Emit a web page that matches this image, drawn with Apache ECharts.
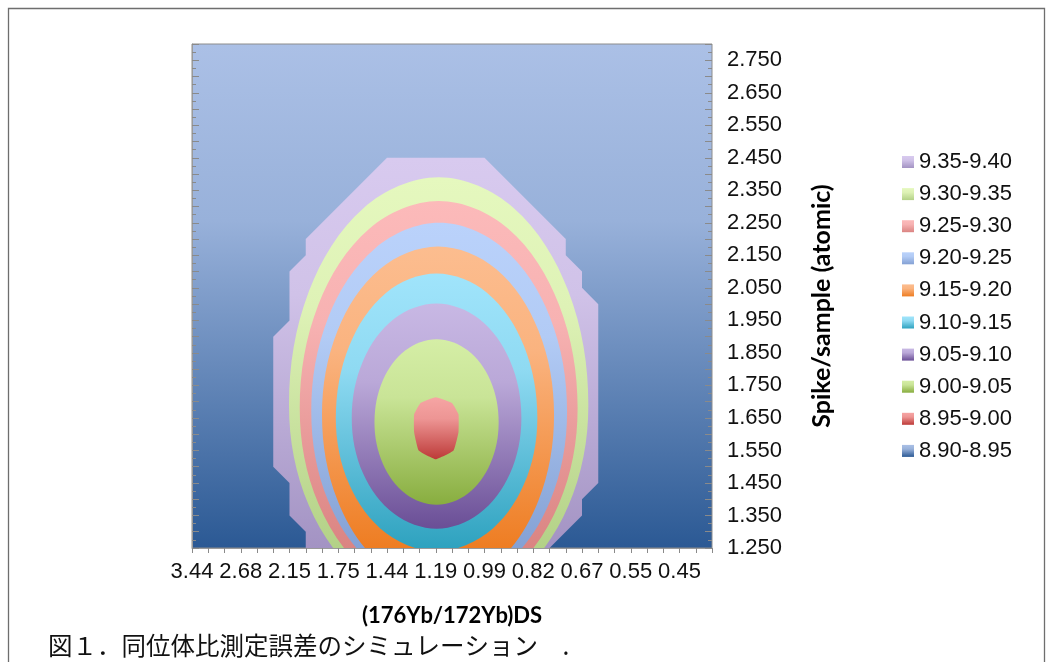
<!DOCTYPE html>
<html><head><meta charset="utf-8">
<script src="https://cdn.jsdelivr.net/npm/echarts@6/dist/echarts.min.js"></script>
<style>html,body{margin:0;padding:0;background:#fff}#c{width:1053px;height:662px}</style>
</head><body><div id="c"></div>
<script>
// ---------------- data ----------------
// category axis (176Yb/172Yb)DS : 33 category positions (0..32), labelled every 3rd
const xTickLabels = ['3.44','2.68','2.15','1.75','1.44','1.19','0.99','0.82','0.67','0.55','0.45'];
const xMin = 0, xMax = 32;
// series axis Spike/sample (atomic)
const yTickLabels = ['1.250','1.350','1.450','1.550','1.650','1.750','1.850','1.950','2.050','2.150','2.250','2.350','2.450','2.550','2.650','2.750'];
const yMin = 1.25, yMax = 2.80;
// legend bands (value ranges)
const bandNames = ['8.90-8.95','8.95-9.00','9.00-9.05','9.05-9.10','9.10-9.15','9.15-9.20','9.20-9.25','9.25-9.30','9.30-9.35','9.35-9.40'];
// contour boundaries, [category position, spike/sample]
const contour940 = [[12,2.45],[18,2.45],[23,2.20],[23,2.15],[24,2.10],[24,2.05],[25,2.00],[25,1.45],[24,1.40],[24,1.35],[22,1.25],[7,1.25],[7,1.30],[6,1.35],[6,1.45],[5,1.50],[5,1.90],[6,1.95],[6,2.10],[7,2.15],[7,2.20]];
const contour935 = [[24.39,1.69],[23.16,2.04],[19.79,2.296],[15.18,2.39],[10.57,2.296],[7.20,2.04],[5.97,1.69],[7.20,1.38],[10.57,1.153],[15.18,1.07],[19.79,1.153],[23.16,1.38]];
const contour930 = [[23.73,1.68],[22.58,1.999],[19.46,2.232],[15.18,2.317],[10.91,2.232],[7.78,1.999],[6.63,1.68],[7.78,1.386],[10.91,1.171],[15.18,1.092],[19.46,1.171],[22.58,1.386]];
const contour925 = [[23.08,1.67],[22.03,1.96],[19.15,2.172],[15.21,2.25],[11.28,2.172],[8.39,1.96],[7.34,1.67],[8.39,1.394],[11.28,1.193],[15.21,1.119],[19.15,1.193],[22.03,1.394]];
const contour920 = [[22.28,1.66],[21.32,1.919],[18.71,2.108],[15.14,2.177],[11.57,2.108],[8.96,1.919],[8.00,1.66],[8.96,1.396],[11.57,1.203],[15.14,1.132],[18.71,1.203],[21.32,1.396]];
const contour915 = [[21.25,1.65],[20.42,1.872],[18.15,2.035],[15.05,2.094],[11.95,2.035],[9.68,1.872],[8.85,1.65],[9.68,1.445],[11.95,1.295],[15.05,1.24],[18.15,1.295],[20.42,1.445]];
const contour910 = [[20.27,1.65],[19.57,1.826],[17.66,1.955],[15.05,2.002],[12.44,1.955],[10.53,1.826],[9.83,1.65],[10.53,1.479],[12.44,1.355],[15.05,1.309],[17.66,1.355],[19.57,1.479]];
const contour905 = [[18.87,1.637],[18.36,1.765],[16.96,1.858],[15.05,1.892],[13.14,1.858],[11.74,1.765],[11.23,1.637],[11.74,1.51],[13.14,1.417],[15.05,1.383],[16.96,1.417],[18.36,1.51]];
const contour900 = [[15,1.714],[16,1.696],[16.4,1.661],[16.4,1.606],[16.1,1.55],[15,1.523],[13.95,1.55],[13.67,1.606],[13.67,1.661],[14.06,1.696]];

// ---------------- styles ----------------
const bandColors = {
  '8.90-8.95': ['#abc0e6', '#2b5994'],
  '8.95-9.00': ['#f6a5a4', '#bd3a38'],
  '9.00-9.05': ['#d5eea6', '#88ad3f'],
  '9.05-9.10': ['#c8b8e4', '#6a4e96'],
  '9.10-9.15': ['#a0e4fb', '#2ea2bf'],
  '9.15-9.20': ['#fcbd8f', '#ee7d22'],
  '9.20-9.25': ['#bad2fb', '#84a1d4'],
  '9.25-9.30': ['#fcbaba', '#da8482'],
  '9.30-9.35': ['#e5f8be', '#b3d187'],
  '9.35-9.40': ['#d8caef', '#a393c3']
};
function mix(a, b, t) {
  const pa = [1,3,5].map(i => parseInt(a.substr(i,2),16));
  const pb = [1,3,5].map(i => parseInt(b.substr(i,2),16));
  return 'rgb(' + pa.map((v,i) => Math.round(v + (pb[i]-v)*t)).join(',') + ')';
}
function stops(name) {
  const c = bandColors[name];
  return [{offset:0,color:c[0]},{offset:0.35,color:mix(c[0],c[1],0.15)},{offset:1,color:c[1]}];
}
function relGrad(name) { return new echarts.graphic.LinearGradient(0,0,0,1,stops(name)); }
function absGrad(name, y0, y1) { return new echarts.graphic.LinearGradient(0,y0,0,y1,stops(name),true); }

function contourSeries(name, pts, smooth) {
  return {
    type: 'custom', name: name, coordinateSystem: 'cartesian2d', clip: true, silent: true,
    itemStyle: { color: relGrad(name) },
    data: pts,
    renderItem: function (params, api) {
      if (params.dataIndex !== 0) return null;
      const cs = params.coordSys;
      const points = pts.map(p => api.coord(p));
      let top = Infinity, bot = -Infinity;
      points.forEach(p => { top = Math.min(top, p[1]); bot = Math.max(bot, p[1]); });
      top = Math.max(top, cs.y); bot = Math.min(bot, cs.y + cs.height);
      return { type: 'polygon', shape: { points: points, smooth: smooth }, style: { fill: absGrad(name, top, bot) } };
    }
  };
}
const backgroundSeries = {
  type: 'custom', name: '8.90-8.95', coordinateSystem: 'cartesian2d', silent: true,
  itemStyle: { color: relGrad('8.90-8.95') },
  data: [[xMin, yMin]],
  renderItem: function (params, api) {
    const cs = params.coordSys;
    return { type: 'rect', shape: { x: cs.x, y: cs.y, width: cs.width, height: cs.height },
      style: { fill: absGrad('8.90-8.95', cs.y, cs.y + cs.height), stroke: '#8c8c8c', lineWidth: 1 } };
  }
};

const numFont = 'Liberation Sans, Arial, sans-serif';
const titleFont = 'Lato, Open Sans, sans-serif';
const tickColor = '#8a8a8a';

const chart = echarts.init(document.getElementById('c'), null, { renderer: 'canvas' });
chart.setOption({
  animation: false,
  backgroundColor: '#ffffff',
  grid: { left: 192, top: 44, width: 520, height: 504, outerBoundsMode: 'none' },
  xAxis: {
    type: 'value', min: xMin, max: xMax, interval: 1, z: 5,
    name: '(176Yb/172Yb)DS', nameLocation: 'middle', nameGap: 57,
    nameTextStyle: { fontFamily: titleFont, fontWeight: 'bold', fontSize: 22, color: '#000' },
    axisLine: { show: true, onZero: false, lineStyle: { color: '#9a9a9a', width: 1 } },
    axisTick: { show: true, length: 5, lineStyle: { color: tickColor } },
    splitLine: { show: false },
    axisLabel: { margin: 13, fontFamily: numFont, fontSize: 22, color: '#111',
      formatter: v => (v % 3 === 0 && xTickLabels[v / 3] !== undefined) ? xTickLabels[v / 3] : '' }
  },
  yAxis: [{
    type: 'value', position: 'right', min: yMin, max: yMax, interval: 0.05, z: 5,
    name: 'Spike/sample (atomic)', nameLocation: 'middle', nameRotate: 90, nameGap: 97,
    nameTextStyle: { fontFamily: titleFont, fontWeight: 'bold', fontSize: 25, color: '#000', padding: [0, 20, 0, 0] },
    axisLine: { show: true, lineStyle: { color: '#9a9a9a', width: 1 } },
    axisTick: { show: true, length: 7, lineStyle: { color: tickColor } },
    minorTick: { show: true, splitNumber: 2, length: 4, lineStyle: { color: tickColor } },
    splitLine: { show: false }, minorSplitLine: { show: false },
    axisLabel: { margin: 15, fontFamily: numFont, fontSize: 22, color: '#111',
      formatter: v => { const k = Math.round((v - yMin) / 0.05); return k % 2 === 0 && yTickLabels[k / 2] ? yTickLabels[k / 2] : ''; } }
  }, {
    type: 'value', position: 'right', min: yMin, max: yMax, interval: 0.05, z: 5,
    axisLine: { show: false },
    axisTick: { show: true, inside: true, length: 7, lineStyle: { color: tickColor } },
    minorTick: { show: true, splitNumber: 2, length: 4, lineStyle: { color: tickColor } },
    splitLine: { show: false }, axisLabel: { show: false }
  }],
  legend: {
    orient: 'vertical', left: 902, top: 151, padding: 0, itemWidth: 12, itemHeight: 12, itemGap: 10.1,
    icon: 'rect', selectedMode: false,
    data: bandNames.slice().reverse(),
    textStyle: { fontFamily: numFont, fontSize: 22, lineHeight: 22, color: '#111' }
  },
  graphic: [
    { type: 'rect', silent: true, shape: { x: 8.5, y: 8.5, width: 1036, height: 720 },
      style: { fill: 'none', stroke: '#6e6e6e', lineWidth: 1.3 } },
    { type: 'text', left: 48, top: 633, silent: true,
      style: { text: '図１．同位体比測定誤差のシミュレーション　.', fontFamily: 'Noto Sans CJK JP', fontSize: 24.5, fill: '#111' } }
  ],
  series: [
    backgroundSeries,
    contourSeries('9.35-9.40', contour940, 0),
    contourSeries('9.30-9.35', contour935, 0.35),
    contourSeries('9.25-9.30', contour930, 0.35),
    contourSeries('9.20-9.25', contour925, 0.35),
    contourSeries('9.15-9.20', contour920, 0.35),
    contourSeries('9.10-9.15', contour915, 0.35),
    contourSeries('9.05-9.10', contour910, 0.35),
    contourSeries('9.00-9.05', contour905, 0.35),
    contourSeries('8.95-9.00', contour900, 0.1)
  ]
});
</script></body></html>
